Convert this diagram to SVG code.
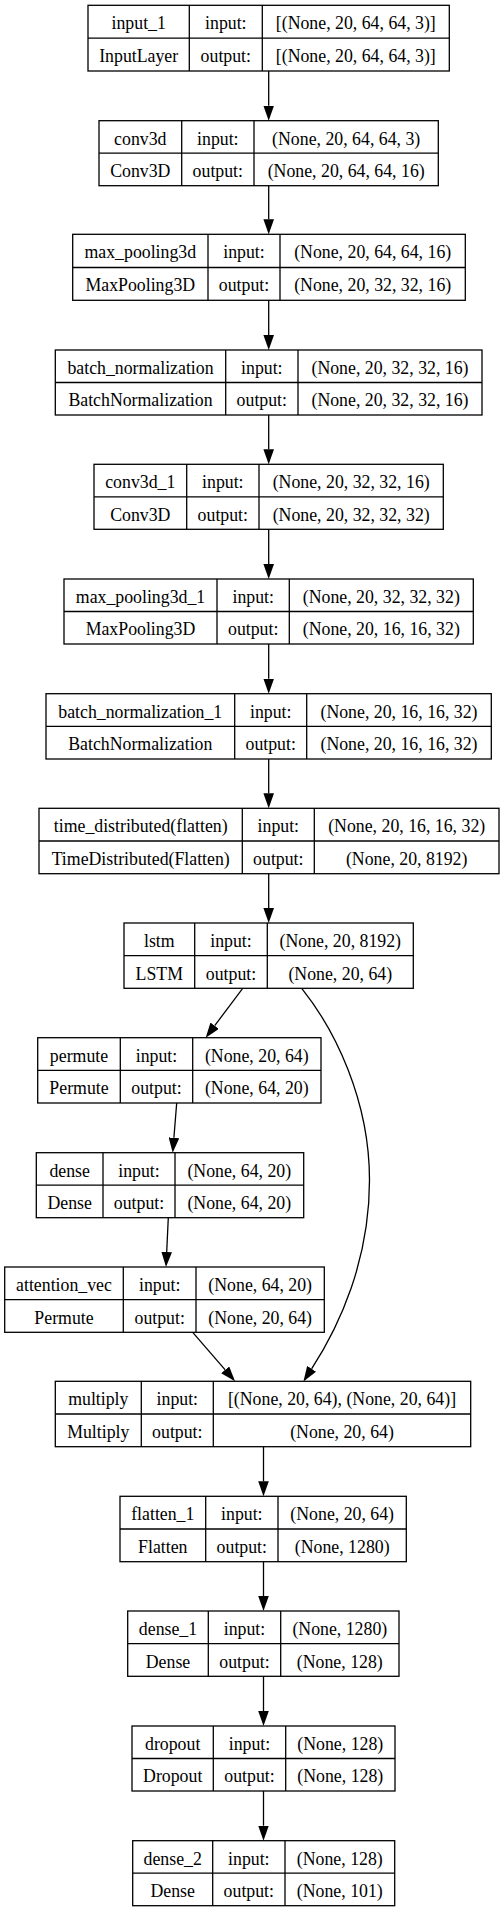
<svg xmlns="http://www.w3.org/2000/svg" width="504" height="1912" viewBox="0 0 504 1912">
<style>
.b{fill:#fff;stroke:#000;stroke-width:1.3}
.d{stroke:#000;stroke-width:1.3}
text{font-family:"Liberation Serif","Times New Roman",serif;font-size:17.8px;fill:#000;text-anchor:middle}
.e{fill:none;stroke:#000;stroke-width:1.3}
</style>
<defs>
<marker id="ah" viewBox="0 0 15 10.6" refX="0" refY="5.3" markerWidth="15" markerHeight="10.6" markerUnits="userSpaceOnUse" orient="auto">
<path d="M0,0 L15,5.3 L0,10.6 z" fill="#000"/>
</marker>
</defs>
<rect width="504" height="1912" fill="#fff"/>
<g id="connectors">
<path class="e" d="M268.7,71 L268.7,105.7" marker-end="url(#ah)"/>
<path class="e" d="M268.7,185.7 L268.7,219.3" marker-end="url(#ah)"/>
<path class="e" d="M268.7,300.3 L268.7,335" marker-end="url(#ah)"/>
<path class="e" d="M268.7,415 L268.7,449.3" marker-end="url(#ah)"/>
<path class="e" d="M268.7,529.3 L268.7,564" marker-end="url(#ah)"/>
<path class="e" d="M268.7,644 L268.7,678.7" marker-end="url(#ah)"/>
<path class="e" d="M268.7,759 L268.7,793.3" marker-end="url(#ah)"/>
<path class="e" d="M268.7,873.7 L268.7,908" marker-end="url(#ah)"/>
<path class="e" d="M242.7,988.3 L214.7,1025.7" marker-end="url(#ah)"/>
<path class="e" d="M301.7,988.3 C335,1030 369.5,1100 369.5,1180 C369.5,1260 340,1325 311.6,1368.8" marker-end="url(#ah)"/>
<path class="e" d="M176.7,1103 L173.9,1137.8" marker-end="url(#ah)"/>
<path class="e" d="M168.3,1217.7 L166.7,1252" marker-end="url(#ah)"/>
<path class="e" d="M192.7,1332.3 L225.2,1369.9" marker-end="url(#ah)"/>
<path class="e" d="M263.5,1446.7 L263.5,1481.3" marker-end="url(#ah)"/>
<path class="e" d="M263.5,1561.7 L263.5,1596" marker-end="url(#ah)"/>
<path class="e" d="M263.5,1676.3 L263.5,1711" marker-end="url(#ah)"/>
<path class="e" d="M263.5,1791 L263.5,1825.7" marker-end="url(#ah)"/>
</g>
<g id="input_1">
<rect class="b" x="88" y="5.3" width="361.3" height="65.7"/>
<line class="d" x1="88" y1="38.2" x2="449.3" y2="38.2"/>
<line class="d" x1="189.3" y1="5.3" x2="189.3" y2="71"/>
<line class="d" x1="262.3" y1="5.3" x2="262.3" y2="71"/>
<text x="138.7" y="29.1">input_1</text><text x="225.8" y="29.1">input:</text><text x="355.8" y="29.1">[(None, 20, 64, 64, 3)]</text>
<text x="138.7" y="62">InputLayer</text><text x="225.8" y="62">output:</text><text x="355.8" y="62">[(None, 20, 64, 64, 3)]</text>
</g>
<g id="conv3d">
<rect class="b" x="99" y="120.7" width="339.3" height="65"/>
<line class="d" x1="99" y1="153.2" x2="438.3" y2="153.2"/>
<line class="d" x1="181.7" y1="120.7" x2="181.7" y2="185.7"/>
<line class="d" x1="254" y1="120.7" x2="254" y2="185.7"/>
<text x="140.3" y="144.5">conv3d</text><text x="217.8" y="144.5">input:</text><text x="346.2" y="144.5">(None, 20, 64, 64, 3)</text>
<text x="140.3" y="177">Conv3D</text><text x="217.8" y="177">output:</text><text x="346.2" y="177">(None, 20, 64, 64, 16)</text>
</g>
<g id="max_pooling3d">
<rect class="b" x="72.7" y="234.3" width="392.6" height="66"/>
<line class="d" x1="72.7" y1="267.5" x2="465.3" y2="267.5"/>
<line class="d" x1="208" y1="234.3" x2="208" y2="300.3"/>
<line class="d" x1="280" y1="234.3" x2="280" y2="300.3"/>
<text x="140.3" y="258.1">max_pooling3d</text><text x="244" y="258.1">input:</text><text x="372.7" y="258.1">(None, 20, 64, 64, 16)</text>
<text x="140.3" y="291.3">MaxPooling3D</text><text x="244" y="291.3">output:</text><text x="372.7" y="291.3">(None, 20, 32, 32, 16)</text>
</g>
<g id="batch_normalization">
<rect class="b" x="55.3" y="350" width="426.7" height="65"/>
<line class="d" x1="55.3" y1="382.5" x2="482" y2="382.5"/>
<line class="d" x1="225.7" y1="350" x2="225.7" y2="415"/>
<line class="d" x1="298" y1="350" x2="298" y2="415"/>
<text x="140.5" y="373.8">batch_normalization</text><text x="261.8" y="373.8">input:</text><text x="390" y="373.8">(None, 20, 32, 32, 16)</text>
<text x="140.5" y="406.3">BatchNormalization</text><text x="261.8" y="406.3">output:</text><text x="390" y="406.3">(None, 20, 32, 32, 16)</text>
</g>
<g id="conv3d_1">
<rect class="b" x="94" y="464.3" width="349.3" height="65"/>
<line class="d" x1="94" y1="496.8" x2="443.3" y2="496.8"/>
<line class="d" x1="186.7" y1="464.3" x2="186.7" y2="529.3"/>
<line class="d" x1="259" y1="464.3" x2="259" y2="529.3"/>
<text x="140.3" y="488.1">conv3d_1</text><text x="222.8" y="488.1">input:</text><text x="351.2" y="488.1">(None, 20, 32, 32, 16)</text>
<text x="140.3" y="520.6">Conv3D</text><text x="222.8" y="520.6">output:</text><text x="351.2" y="520.6">(None, 20, 32, 32, 32)</text>
</g>
<g id="max_pooling3d_1">
<rect class="b" x="64" y="579" width="409.3" height="65"/>
<line class="d" x1="64" y1="611.5" x2="473.3" y2="611.5"/>
<line class="d" x1="217" y1="579" x2="217" y2="644"/>
<line class="d" x1="289.3" y1="579" x2="289.3" y2="644"/>
<text x="140.5" y="602.8">max_pooling3d_1</text><text x="253.2" y="602.8">input:</text><text x="381.3" y="602.8">(None, 20, 32, 32, 32)</text>
<text x="140.5" y="635.3">MaxPooling3D</text><text x="253.2" y="635.3">output:</text><text x="381.3" y="635.3">(None, 20, 16, 16, 32)</text>
</g>
<g id="batch_normalization_1">
<rect class="b" x="46" y="693.7" width="445.3" height="65.3"/>
<line class="d" x1="46" y1="726.4" x2="491.3" y2="726.4"/>
<line class="d" x1="234.7" y1="693.7" x2="234.7" y2="759"/>
<line class="d" x1="306.7" y1="693.7" x2="306.7" y2="759"/>
<text x="140.3" y="717.5">batch_normalization_1</text><text x="270.7" y="717.5">input:</text><text x="399" y="717.5">(None, 20, 16, 16, 32)</text>
<text x="140.3" y="750.2">BatchNormalization</text><text x="270.7" y="750.2">output:</text><text x="399" y="750.2">(None, 20, 16, 16, 32)</text>
</g>
<g id="time_distributed">
<rect class="b" x="39" y="808.3" width="460" height="65.4"/>
<line class="d" x1="39" y1="841" x2="499" y2="841"/>
<line class="d" x1="242.3" y1="808.3" x2="242.3" y2="873.7"/>
<line class="d" x1="314.3" y1="808.3" x2="314.3" y2="873.7"/>
<text x="140.7" y="832.1">time_distributed(flatten)</text><text x="278.3" y="832.1">input:</text><text x="406.7" y="832.1">(None, 20, 16, 16, 32)</text>
<text x="140.7" y="864.8">TimeDistributed(Flatten)</text><text x="278.3" y="864.8">output:</text><text x="406.7" y="864.8">(None, 20, 8192)</text>
</g>
<g id="lstm">
<rect class="b" x="124" y="923" width="289.3" height="65.3"/>
<line class="d" x1="124" y1="955.7" x2="413.3" y2="955.7"/>
<line class="d" x1="194.7" y1="923" x2="194.7" y2="988.3"/>
<line class="d" x1="267.3" y1="923" x2="267.3" y2="988.3"/>
<text x="159.3" y="946.8">lstm</text><text x="231" y="946.8">input:</text><text x="340.3" y="946.8">(None, 20, 8192)</text>
<text x="159.3" y="979.5">LSTM</text><text x="231" y="979.5">output:</text><text x="340.3" y="979.5">(None, 20, 64)</text>
</g>
<g id="permute">
<rect class="b" x="37.7" y="1037.7" width="283.3" height="65.3"/>
<line class="d" x1="37.7" y1="1070.3" x2="321" y2="1070.3"/>
<line class="d" x1="120.3" y1="1037.7" x2="120.3" y2="1103"/>
<line class="d" x1="192.7" y1="1037.7" x2="192.7" y2="1103"/>
<text x="79" y="1061.5">permute</text><text x="156.5" y="1061.5">input:</text><text x="256.8" y="1061.5">(None, 20, 64)</text>
<text x="79" y="1094.1">Permute</text><text x="156.5" y="1094.1">output:</text><text x="256.8" y="1094.1">(None, 64, 20)</text>
</g>
<g id="dense">
<rect class="b" x="36.3" y="1152.7" width="267.4" height="65"/>
<line class="d" x1="36.3" y1="1185.2" x2="303.7" y2="1185.2"/>
<line class="d" x1="103" y1="1152.7" x2="103" y2="1217.7"/>
<line class="d" x1="175" y1="1152.7" x2="175" y2="1217.7"/>
<text x="69.7" y="1176.5">dense</text><text x="139" y="1176.5">input:</text><text x="239.3" y="1176.5">(None, 64, 20)</text>
<text x="69.7" y="1209">Dense</text><text x="139" y="1209">output:</text><text x="239.3" y="1209">(None, 64, 20)</text>
</g>
<g id="attention_vec">
<rect class="b" x="4.7" y="1267" width="319.6" height="65.3"/>
<line class="d" x1="4.7" y1="1299.7" x2="324.3" y2="1299.7"/>
<line class="d" x1="123.3" y1="1267" x2="123.3" y2="1332.3"/>
<line class="d" x1="196" y1="1267" x2="196" y2="1332.3"/>
<text x="64" y="1290.8">attention_vec</text><text x="159.7" y="1290.8">input:</text><text x="260.2" y="1290.8">(None, 64, 20)</text>
<text x="64" y="1323.5">Permute</text><text x="159.7" y="1323.5">output:</text><text x="260.2" y="1323.5">(None, 20, 64)</text>
</g>
<g id="multiply">
<rect class="b" x="55.3" y="1381.3" width="415.4" height="65.4"/>
<line class="d" x1="55.3" y1="1414" x2="470.7" y2="1414"/>
<line class="d" x1="141.3" y1="1381.3" x2="141.3" y2="1446.7"/>
<line class="d" x1="213.3" y1="1381.3" x2="213.3" y2="1446.7"/>
<text x="98.3" y="1405.1">multiply</text><text x="177.3" y="1405.1">input:</text><text x="342" y="1405.1">[(None, 20, 64), (None, 20, 64)]</text>
<text x="98.3" y="1437.8">Multiply</text><text x="177.3" y="1437.8">output:</text><text x="342" y="1437.8">(None, 20, 64)</text>
</g>
<g id="flatten_1">
<rect class="b" x="120" y="1496.3" width="286.3" height="65.4"/>
<line class="d" x1="120" y1="1529" x2="406.3" y2="1529"/>
<line class="d" x1="205.7" y1="1496.3" x2="205.7" y2="1561.7"/>
<line class="d" x1="278" y1="1496.3" x2="278" y2="1561.7"/>
<text x="162.8" y="1520.1">flatten_1</text><text x="241.8" y="1520.1">input:</text><text x="342.2" y="1520.1">(None, 20, 64)</text>
<text x="162.8" y="1552.8">Flatten</text><text x="241.8" y="1552.8">output:</text><text x="342.2" y="1552.8">(None, 1280)</text>
</g>
<g id="dense_1">
<rect class="b" x="127.7" y="1611" width="271.3" height="65.3"/>
<line class="d" x1="127.7" y1="1643.7" x2="399" y2="1643.7"/>
<line class="d" x1="208.3" y1="1611" x2="208.3" y2="1676.3"/>
<line class="d" x1="280.7" y1="1611" x2="280.7" y2="1676.3"/>
<text x="168" y="1634.8">dense_1</text><text x="244.5" y="1634.8">input:</text><text x="339.8" y="1634.8">(None, 1280)</text>
<text x="168" y="1667.5">Dense</text><text x="244.5" y="1667.5">output:</text><text x="339.8" y="1667.5">(None, 128)</text>
</g>
<g id="dropout">
<rect class="b" x="132" y="1726" width="263" height="65"/>
<line class="d" x1="132" y1="1758.5" x2="395" y2="1758.5"/>
<line class="d" x1="213.3" y1="1726" x2="213.3" y2="1791"/>
<line class="d" x1="285.7" y1="1726" x2="285.7" y2="1791"/>
<text x="172.7" y="1749.8">dropout</text><text x="249.5" y="1749.8">input:</text><text x="340.3" y="1749.8">(None, 128)</text>
<text x="172.7" y="1782.3">Dropout</text><text x="249.5" y="1782.3">output:</text><text x="340.3" y="1782.3">(None, 128)</text>
</g>
<g id="dense_2">
<rect class="b" x="132.7" y="1840.7" width="262" height="65"/>
<line class="d" x1="132.7" y1="1873.2" x2="394.7" y2="1873.2"/>
<line class="d" x1="212.7" y1="1840.7" x2="212.7" y2="1905.7"/>
<line class="d" x1="285" y1="1840.7" x2="285" y2="1905.7"/>
<text x="172.7" y="1864.5">dense_2</text><text x="248.8" y="1864.5">input:</text><text x="339.8" y="1864.5">(None, 128)</text>
<text x="172.7" y="1897">Dense</text><text x="248.8" y="1897">output:</text><text x="339.8" y="1897">(None, 101)</text>
</g>
</svg>
